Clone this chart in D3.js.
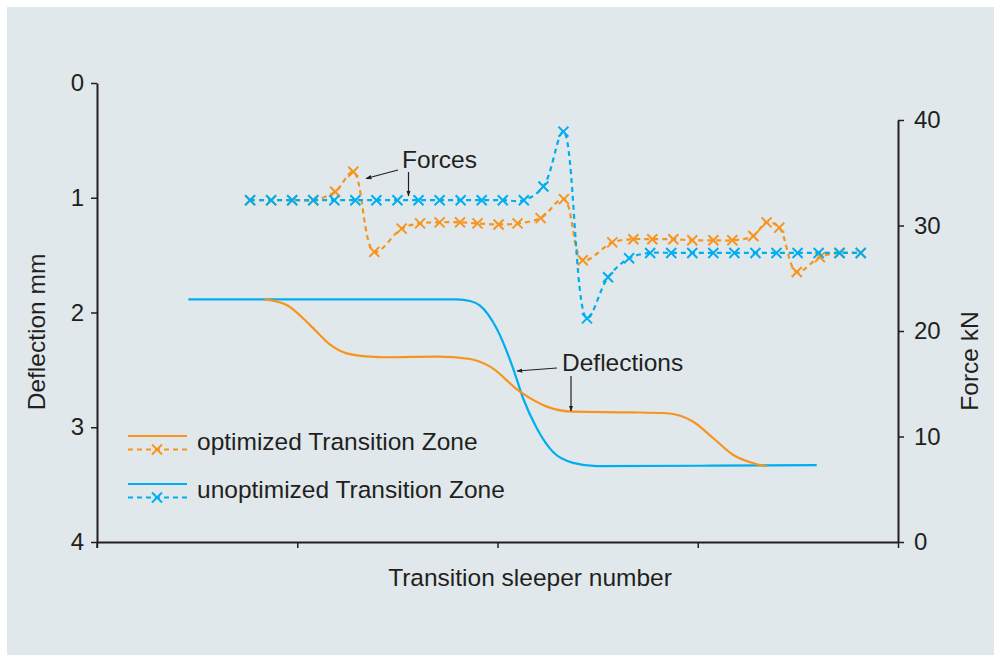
<!DOCTYPE html>
<html>
<head>
<meta charset="utf-8">
<script src="https://cdn.jsdelivr.net/npm/d3@7"></script>
<style>
  html, body { margin: 0; padding: 0; background: #ffffff; }
  svg { display: block; }
  text { font-family: "Liberation Sans", Arial, Helvetica, sans-serif; fill: #231f20; }
</style>
</head>
<body>
<svg id="chart" width="994" height="655"></svg>
<script>
// ---------------- DATA ----------------
// x = sleeper position (first force sleeper = 0), y in mm (deflection) or kN (force)
const xDomain = [-7.27, 30.77];
const deflTicks = [0, 1, 2, 3, 4];
const forceTicks = [0, 10, 20, 30, 40];

// Deflection curves (solid)
const optDeflX = [0.68, 1.74, 2.85, 3.80, 4.59, 5.70, 6.49, 8.86, 10.45, 11.40, 12.82, 14.09, 15.35, 18.04, 19.79, 21.05, 22.00, 22.95, 23.90, 24.53];
const optDeflY = [1.885, 1.935, 2.11, 2.28, 2.356, 2.385, 2.39, 2.385, 2.405, 2.472, 2.69, 2.82, 2.864, 2.87, 2.878, 2.952, 3.096, 3.242, 3.314, 3.34];
const unoptDeflX = [-2.93, 2.0, 7.0, 9.8, 10.45, 10.92, 11.71, 12.49, 12.96, 13.61, 14.39, 15.34, 16.46, 22.0, 26.91];
const unoptDeflY = [1.885, 1.885, 1.885, 1.886, 1.9, 1.94, 2.14, 2.486, 2.745, 3.006, 3.216, 3.31, 3.338, 3.335, 3.33];

// Forces (dashed with x markers)
const optForceX = [0, 1, 2, 3, 4.04, 4.9, 5.9, 7.2, 8.07, 9.0, 9.97, 10.8, 11.8, 12.7, 13.8, 14.9, 15.8, 17.2, 18.2, 19.1, 20.1, 21.0, 22.0, 22.9, 23.9, 24.53, 25.13, 25.96, 27.06, 27.98, 29.0];
const optForceY = [32.4, 32.4, 32.4, 32.4, 33.2, 35.1, 27.5, 29.7, 30.2, 30.3, 30.3, 30.2, 30.1, 30.2, 30.7, 32.5, 26.7, 28.4, 28.7, 28.7, 28.7, 28.6, 28.6, 28.6, 29.0, 30.3, 29.8, 25.6, 27.0, 27.4, 27.4];
const unoptForceX = [0, 1, 2, 3, 4, 5, 6, 7, 8, 9, 10, 11, 12, 13, 13.93, 14.88, 16, 17, 18, 19, 20, 21, 22, 23, 24, 25, 26, 27, 28, 29];
const unoptForceY = [32.4, 32.4, 32.4, 32.4, 32.4, 32.4, 32.4, 32.4, 32.4, 32.4, 32.4, 32.4, 32.4, 32.4, 33.7, 38.9, 21.2, 25.1, 26.9, 27.4, 27.4, 27.4, 27.4, 27.4, 27.4, 27.4, 27.4, 27.4, 27.4, 27.4];

const seriesNames = ["optimized Transition Zone", "unoptimized Transition Zone"];
const colors = ["#f7941d", "#00aeef"];

// ---------------- DRAW ----------------
const svg = d3.select("#chart");
const ink = "#231f20";
const FONT = 24.5;

svg.append("rect").attr("x", 7).attr("y", 7).attr("width", 994 - 7).attr("height", 655 - 7).attr("fill", "#e0e8eb");

const x = d3.scaleLinear().domain(xDomain).range([97, 898]);
const yD = d3.scaleLinear().domain([0, 4]).range([83, 542]);
const yF = d3.scaleLinear().domain([0, 40]).range([542, 120]);

// axes
const xTickVals = d3.range(5).map(i => xDomain[0] + i * (xDomain[1] - xDomain[0]) / 4);
const gx = svg.append("g").attr("transform", `translate(0,${yD(4)})`)
  .call(d3.axisBottom(x).tickValues(xTickVals).tickFormat("").tickSize(6).tickSizeOuter(0));
const gl = svg.append("g").attr("transform", `translate(${x(xDomain[0])},0)`)
  .call(d3.axisLeft(yD).tickValues(deflTicks).tickFormat(d3.format("d")).tickSize(6).tickSizeOuter(0).tickPadding(7));
const gr = svg.append("g").attr("transform", `translate(${x(xDomain[1])},0)`)
  .call(d3.axisRight(yF).tickValues(forceTicks).tickFormat(d3.format("d")).tickSize(6).tickSizeOuter(0).tickPadding(10));
[gx, gl, gr].forEach(g => {
  g.select(".domain").attr("stroke", ink).attr("stroke-width", 2);
  g.selectAll(".tick line").attr("stroke", ink).attr("stroke-width", 1.5);
  g.selectAll(".tick text").attr("font-size", 24).attr("fill", ink)
    .attr("font-family", '"Liberation Sans", Arial, sans-serif');
});
svg.append("line").attr("x1", x(xDomain[0])).attr("x2", x(xDomain[0])).attr("y1", yD(4)).attr("y2", yD(4) + 6).attr("stroke", ink).attr("stroke-width", 1.5);

// axis titles
svg.append("text").attr("transform", `translate(45,332) rotate(-90)`).attr("text-anchor", "middle")
  .attr("font-size", FONT).text("Deflection mm");
svg.append("text").attr("transform", `translate(978,361) rotate(-90)`).attr("text-anchor", "middle")
  .attr("font-size", FONT).text("Force kN");
svg.append("text").attr("x", 530).attr("y", 586).attr("text-anchor", "middle")
  .attr("font-size", FONT).text("Transition sleeper number");

// deflection lines
const deflLine = d3.line().x(d => x(d[0])).y(d => yD(d[1])).curve(d3.curveMonotoneX);
const deflData = [d3.zip(optDeflX, optDeflY), d3.zip(unoptDeflX, unoptDeflY)];
[1, 0].forEach(i => {
  svg.append("path").datum(deflData[i]).attr("d", deflLine)
    .attr("fill", "none").attr("stroke", colors[i]).attr("stroke-width", 2.2);
});

// force lines
const forceLine = d3.line().x(d => x(d[0])).y(d => yF(d[1])).curve(d3.curveCatmullRom.alpha(0.5));
const forceData = [d3.zip(optForceX, optForceY), d3.zip(unoptForceX, unoptForceY)];
const mk = 5;
function cross(g, cx, cy, color) {
  g.append("path").attr("d", `M${cx - mk},${cy - mk}L${cx + mk},${cy + mk}M${cx - mk},${cy + mk}L${cx + mk},${cy - mk}`)
    .attr("stroke", color).attr("stroke-width", 2).attr("fill", "none");
}
[0, 1].forEach(i => {
  svg.append("path").datum(forceData[i]).attr("d", forceLine)
    .attr("fill", "none").attr("stroke", colors[i]).attr("stroke-width", 2.2).attr("stroke-dasharray", "5,4");
  const g = svg.append("g");
  forceData[i].forEach(d => cross(g, x(d[0]), yF(d[1]), colors[i]));
});

// annotations
svg.append("defs").append("marker").attr("id", "arr").attr("viewBox", "0 0 10 10")
  .attr("refX", 9).attr("refY", 5).attr("markerWidth", 5).attr("markerHeight", 5).attr("orient", "auto")
  .append("path").attr("d", "M0,1.5L10,5L0,8.5Z").attr("fill", ink);
svg.append("text").attr("x", 402).attr("y", 168).attr("font-size", FONT).text("Forces");
svg.append("line").attr("x1", 398).attr("y1", 170).attr("x2", 366).attr("y2", 178.5)
  .attr("stroke", ink).attr("stroke-width", 1.2).attr("marker-end", "url(#arr)");
svg.append("line").attr("x1", 408.5).attr("y1", 172).attr("x2", 408.5).attr("y2", 196)
  .attr("stroke", ink).attr("stroke-width", 1.2).attr("marker-end", "url(#arr)");
svg.append("text").attr("x", 562).attr("y", 371).attr("font-size", FONT).text("Deflections");
svg.append("line").attr("x1", 557).attr("y1", 368).attr("x2", 517).attr("y2", 371)
  .attr("stroke", ink).attr("stroke-width", 1.2).attr("marker-end", "url(#arr)");
svg.append("line").attr("x1", 571).attr("y1", 376).attr("x2", 571).attr("y2", 411)
  .attr("stroke", ink).attr("stroke-width", 1.2).attr("marker-end", "url(#arr)");

// legend
const legY = [436, 484];
seriesNames.forEach((name, i) => {
  const g = svg.append("g");
  g.append("line").attr("x1", 128).attr("x2", 187).attr("y1", legY[i]).attr("y2", legY[i])
    .attr("stroke", colors[i]).attr("stroke-width", 2.2);
  g.append("line").attr("x1", 128).attr("x2", 187).attr("y1", legY[i] + 13.5).attr("y2", legY[i] + 13.5)
    .attr("stroke", colors[i]).attr("stroke-width", 2.2).attr("stroke-dasharray", "5,4");
  cross(g, 157, legY[i] + 13.5, colors[i]);
  g.append("text").attr("x", 197).attr("y", legY[i] + 13.5).attr("font-size", FONT).text(name);
});
</script>
</body>
</html>
